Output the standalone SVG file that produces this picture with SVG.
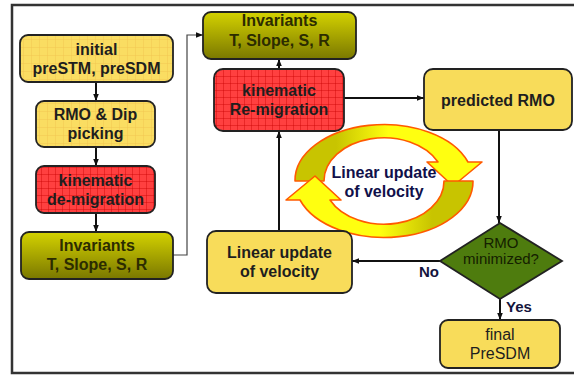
<svg xmlns="http://www.w3.org/2000/svg" width="574" height="377" viewBox="0 0 574 377">
<style>
.box{stroke:#222;stroke-width:1.8}
.t{font-family:"Liberation Sans",Arial,sans-serif;font-weight:bold;font-size:16px;fill:#1e1e1e;text-anchor:middle}
.tn{font-family:"Liberation Sans",Arial,sans-serif;font-size:15px;fill:#142000;text-anchor:middle}
.lbl{font-family:"Liberation Sans",Arial,sans-serif;font-weight:bold;font-size:15px;fill:#14143c}
.c{fill:none;stroke:#111;stroke-width:2}
.thin{fill:none;stroke:#444;stroke-width:1.2}
.arc{stroke:#ff5a00;stroke-width:1.6;stroke-linejoin:round}
</style>
<defs>
<pattern id="gridY" width="8" height="8" patternUnits="userSpaceOnUse"><rect width="8" height="8" fill="#fadd62"/><path d="M8 0V8M0 8H8" stroke="#efc24c" stroke-width="0.8"/></pattern>
<pattern id="gridR" width="7" height="7" patternUnits="userSpaceOnUse"><rect width="7" height="7" fill="#ff4040"/><path d="M7 0V7M0 7H7" stroke="#c80000" stroke-width="0.8"/></pattern>
<linearGradient id="olive" x1="0" y1="0" x2="0" y2="1"><stop offset="0" stop-color="#d4d200"/><stop offset="1" stop-color="#7a7800"/></linearGradient>
<linearGradient id="arcTop" x1="0" y1="0" x2="1" y2="0"><stop offset="0" stop-color="#c8c400"/><stop offset="0.22" stop-color="#c8c400"/><stop offset="0.5" stop-color="#ffff10"/><stop offset="1" stop-color="#ffff10"/></linearGradient>
<linearGradient id="arcBot" x1="1" y1="0" x2="0" y2="0"><stop offset="0" stop-color="#c8c400"/><stop offset="0.22" stop-color="#c8c400"/><stop offset="0.5" stop-color="#ffff10"/><stop offset="1" stop-color="#ffff10"/></linearGradient>
<marker id="ah" viewBox="0 0 10 10" refX="10" refY="5" markerWidth="7" markerHeight="7" markerUnits="userSpaceOnUse" orient="auto"><path d="M0,1 L10,5 L0,9 Z" fill="#111"/></marker>
</defs>
<rect width="574" height="377" fill="#fff"/>
<rect x="12" y="5" width="600" height="368" fill="none" stroke="#333" stroke-width="2.5"/>

<g id="connectors">
<path class="c" d="M96,82 V101" marker-end="url(#ah)"/>
<path class="c" d="M96,147 V166" marker-end="url(#ah)"/>
<path class="c" d="M96,213 V232" marker-end="url(#ah)"/>
<path class="thin" d="M173,255 H187 V35 H203" marker-end="url(#ah)"/>
<path class="c" d="M279,69 V59" marker-end="url(#ah)"/>
<path class="c" d="M279,231 V131" marker-end="url(#ah)"/>
<path class="c" d="M344,98 H424" marker-end="url(#ah)"/>
<path class="c" d="M499,130 V223" marker-end="url(#ah)"/>
<path class="c" d="M440,261 H352" marker-end="url(#ah)"/>
<path class="c" d="M500,299 V320" marker-end="url(#ah)"/>
<text class="lbl" x="419" y="277">No</text>
<text class="lbl" x="506" y="312">Yes</text>
</g>

<g id="cycle">
<path class="arc" fill="url(#arcTop)" d="M295,181 A89,56 0 0 1 468,162 L482,162 L453,186 L427,162 L438,162 A60,43 0 0 0 324,181 Z"/>
<path class="arc" fill="url(#arcBot)" d="M473,181 A89,56 0 0 1 300,200 L286,200 L315,176 L341,200 L330,200 A60,43 0 0 0 444,181 Z"/>
<text class="t" x="384" y="178" style="fill:#10104a">Linear update</text>
<text class="t" x="384" y="197" style="fill:#10104a">of velocity</text>
</g>

<g id="initial">
<rect class="box" x="20" y="35" width="153" height="47" rx="8" fill="url(#gridY)"/>
<text class="t" x="96.5" y="55">initial</text>
<text class="t" x="96.5" y="74">preSTM, preSDM</text>
</g>
<g id="rmo-dip">
<rect class="box" x="36" y="101" width="119" height="46" rx="8" fill="url(#gridY)"/>
<text class="t" x="95.5" y="120">RMO &amp; Dip</text>
<text class="t" x="95.5" y="139">picking</text>
</g>
<g id="demigration">
<rect class="box" x="36" y="166" width="119" height="47" rx="8" fill="url(#gridR)"/>
<text class="t" x="95.5" y="186">kinematic</text>
<text class="t" x="95.5" y="205">de-migration</text>
</g>
<g id="invariants-left">
<rect class="box" x="21" y="232" width="152" height="47" rx="8" fill="url(#olive)"/>
<text class="t" x="97" y="251" style="fill:#2c2c00">Invariants</text>
<text class="t" x="97" y="270" style="fill:#2c2c00">T, Slope, S, R</text>
</g>
<g id="invariants-top">
<rect class="box" x="203" y="12" width="153" height="47" rx="8" fill="url(#olive)"/>
<text class="t" x="279.5" y="26" style="fill:#2c2c00">Invariants</text>
<text class="t" x="279.5" y="46" style="fill:#2c2c00">T, Slope, S, R</text>
</g>
<g id="remigration">
<rect class="box" x="214" y="69" width="130" height="62" rx="9" fill="url(#gridR)"/>
<text class="t" x="279" y="96">kinematic</text>
<text class="t" x="279" y="115">Re-migration</text>
</g>
<g id="predicted-rmo">
<rect class="box" x="424" y="69" width="148" height="61" rx="9" fill="#f8dc5a"/>
<text class="t" x="498" y="106">predicted RMO</text>
</g>
<g id="linear-update">
<rect class="box" x="207" y="231" width="145" height="62" rx="9" fill="#f8dc5a"/>
<text class="t" x="279.5" y="258">Linear update</text>
<text class="t" x="279.5" y="277">of velocity</text>
</g>
<g id="rmo-minimized">
<path class="box" d="M500,223 L562,261 L500,299 L440,261 Z" fill="#4e7c0e"/>
<text class="tn" x="501" y="248">RMO</text>
<text class="tn" x="501" y="264">minimized?</text>
</g>
<g id="final-presdm">
<rect class="box" x="440" y="320" width="120" height="48" rx="8" fill="#f8dc5a"/>
<text class="tn" x="500" y="340" style="font-size:16px;fill:#1e1e1e">final</text>
<text class="tn" x="500" y="359" style="font-size:16px;fill:#1e1e1e">PreSDM</text>
</g>
</svg>
